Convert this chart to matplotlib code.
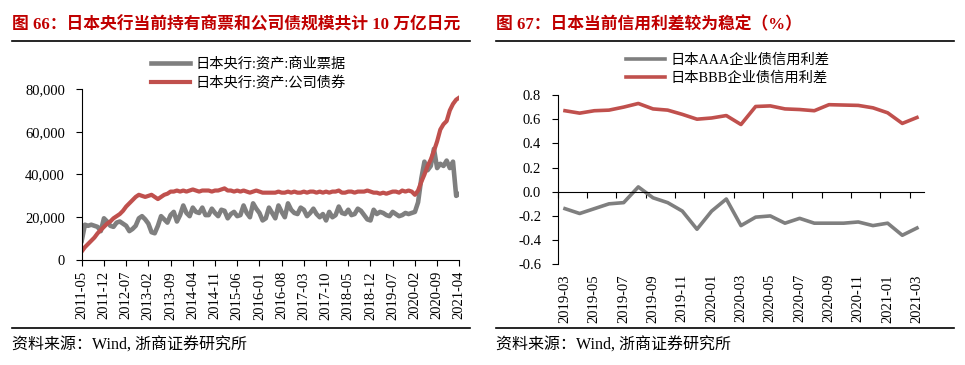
import matplotlib
matplotlib.use('Agg')
import matplotlib.pyplot as plt
import numpy as np
import pandas as pd
from matplotlib.lines import Line2D

plt.rcParams['font.family'] = ['Liberation Serif', 'Noto Sans CJK SC']
plt.rcParams['axes.unicode_minus'] = False

###############
# chart data  #
###############

# figure 66: BOJ holdings, monthly 2011-05 .. 2021-04 (100 million yen)
months_left = pd.date_range('2011-05-01', '2021-04-01', freq='MS')

cp_holdings = [
    9000, 16500, 16000, 16500, 16000, 15500, 13500, 19500, 18000, 16000,
    15500, 17500, 18000, 17000, 16000, 13500, 14500, 16000, 19500, 20500,
    19000, 17000, 13000, 12500, 16000, 20500, 19000, 17500, 21000, 22500,
    18000, 21000, 25500, 22000, 20500, 24500, 22500, 22000, 24500, 21000,
    21000, 24000, 22000, 20500, 23500, 23000, 19500, 21500, 22500, 20500,
    21000, 25500, 22000, 20000, 26500, 24000, 22000, 18500, 19500, 24500,
    22000, 19500, 25500, 22500, 20000, 26500, 23500, 22000, 21500, 24500,
    23500, 20500, 22000, 24000, 21500, 20000, 21500, 18500, 22500, 20000,
    21000, 25000, 22000, 21500, 23500, 21000, 21500, 24000, 23000, 21000,
    19000, 18500, 23500, 21500, 22500, 22000, 21000, 20500, 22500, 21500,
    20500, 21000, 22000, 21500, 22000, 22500, 27000, 38000, 46000, 42000,
    44000, 52000, 43000, 45000, 44000, 46500, 43000, 46000, 30000, 31000,
]

corp_bond_holdings = [
    4000, 6000, 7500, 9000, 10500, 12500, 14000, 15500, 17000, 18000,
    19500, 20500, 21500, 23000, 25000, 26500, 28000, 29500, 30500, 30000,
    29500, 30000, 30500, 29500, 28500, 29500, 30500, 31000, 32000, 32000,
    32500, 32000, 32500, 32000, 32500, 33000, 32500, 32000, 32500, 32500,
    32500, 32000, 32500, 32500, 33000, 33500, 32500, 32500, 32000, 32500,
    32000, 32500, 32000, 31500, 32000, 32500, 32000, 31500, 31500, 31500,
    31500, 31500, 32000, 31500, 31500, 32000, 31500, 32000, 31500, 31500,
    32000, 31500, 32000, 32000, 31500, 32000, 31500, 32000, 31500, 32000,
    32000, 32500, 31500, 31500, 32000, 32000, 31500, 32000, 32000, 32000,
    32500, 32000, 31500, 31500, 31000, 31500, 31000, 31500, 32000, 32000,
    31500, 32500, 32000, 32500, 32000, 30500, 32500, 36500, 40000, 44000,
    47000, 51000, 55500, 61000, 63500, 65000, 70000, 73000, 75000, 76000,
]

# figure 67: Japan corporate credit spreads, monthly 2019-03 .. 2021-03 (%)
months_right = pd.date_range('2019-03-01', '2021-03-01', freq='MS')

aaa_spread = [
    -0.14, -0.18, -0.14, -0.10, -0.09, 0.04, -0.05, -0.09, -0.16, -0.31,
    -0.16, -0.06, -0.28, -0.21, -0.20, -0.26, -0.22, -0.26, -0.26, -0.26,
    -0.25, -0.28, -0.26, -0.36, -0.30,
]

bbb_spread = [
    0.67, 0.65, 0.67, 0.675, 0.70, 0.73, 0.685, 0.675, 0.64, 0.60,
    0.61, 0.63, 0.556, 0.705, 0.71, 0.685, 0.68, 0.67, 0.72, 0.717,
    0.714, 0.694, 0.653, 0.565, 0.614,
]

left_legend = ['日本央行:资产:商业票据', '日本央行:资产:公司债券']
right_legend = ['日本AAA企业债信用利差', '日本BBB企业债信用利差']

title_left = '图 66：日本央行当前持有商票和公司债规模共计 10 万亿日元'
title_right = '图 67：日本当前信用利差较为稳定（%）'
source_text = '资料来源：Wind, 浙商证券研究所'

#################
# style options #
#################

gray = '#7f7f7f'
red = '#c0504d'
title_color = '#c00000'
tick_fs = 10.5
legend_fs = 10.3

fig = plt.figure(figsize=(9.65, 3.65), dpi=100)

def style_axes(ax):
    ax.spines['top'].set_visible(False)
    ax.spines['right'].set_visible(False)
    ax.spines['left'].set_linewidth(0.8)
    ax.spines['bottom'].set_linewidth(0.8)
    ax.tick_params(axis='y', direction='out', length=4, width=0.8,
                   labelsize=tick_fs, pad=8)
    ax.tick_params(axis='x', direction='out', length=4, width=0.8,
                   labelsize=tick_fs)

##############
# left chart #
##############

ax1 = fig.add_axes([0.0847, 0.2877, 0.3913, 0.4685])
xl = np.arange(len(months_left))
ax1.plot(xl, cp_holdings, color=gray, lw=3.3, solid_joinstyle='round',
         label=left_legend[0])
ax1.plot(xl, corp_bond_holdings, color=red, lw=3.0, solid_joinstyle='round',
         label=left_legend[1])
ax1.set_xlim(0, len(xl) - 1)
ax1.set_ylim(0, 80000)
style_axes(ax1)
yt = [0, 20000, 40000, 60000, 80000]
ax1.set_yticks(yt, [format(v, ',') for v in yt])
xt = xl[::7]
ax1.set_xticks(xt, [months_left[i].strftime('%Y-%m') for i in xt],
               rotation=90)
ax1.tick_params(axis='x', pad=4)
ax1.legend(loc='upper left', bbox_to_anchor=(151 / 965, 1 - 57 / 365),
           bbox_transform=fig.transFigure, frameon=False, fontsize=legend_fs,
           handlelength=2.7, handletextpad=0.4, labelspacing=0.35,
           borderpad=0, borderaxespad=0)

###############
# right chart #
###############

ax2 = fig.add_axes([0.5779, 0.2759, 0.3799, 0.4638])
xr = np.arange(len(months_right))
ax2.plot(xr, aaa_spread, color=gray, lw=2.6, label=right_legend[0])
ax2.plot(xr, bbb_spread, color=red, lw=2.6, label=right_legend[1])
ax2.set_xlim(-0.5, len(xr) - 0.5)
ax2.set_ylim(-0.6, 0.8)
style_axes(ax2)
ax2.spines['bottom'].set_position(('data', 0))
yt2 = [-0.6, -0.4, -0.2, 0.0, 0.2, 0.4, 0.6, 0.8]
ax2.set_yticks(yt2, ['%.1f' % v for v in yt2])
ax2.set_xticks(np.arange(-0.5, len(xr), 2))
ax2.tick_params(axis='x', labelbottom=False)

# date labels sit at the bottom, below the zero line
sec = ax2.secondary_xaxis('bottom')
sec.set_xticks(xr[::2], [d.strftime('%Y-%m') for d in months_right[::2]],
               rotation=90)
sec.tick_params(length=0, pad=7, labelsize=tick_fs)
sec.spines['bottom'].set_visible(False)

ax2.legend(loc='upper left', bbox_to_anchor=(626 / 965, 1 - 53 / 365),
           bbox_transform=fig.transFigure, frameon=False, fontsize=legend_fs,
           handlelength=2.7, handletextpad=0.4, labelspacing=0.35,
           borderpad=0, borderaxespad=0)

###########################
# titles, rules, sources  #
###########################

for x0, x1, title in [(12, 470, title_left), (496, 954, title_right)]:
    fig.text(x0 / 965, 1 - 25 / 365, title, color=title_color,
             fontsize=12.1, fontweight='bold', va='center', ha='left')
    fig.add_artist(Line2D([x0 / 965, x1 / 965], [1 - 41 / 365, 1 - 41 / 365],
                          color='black', lw=1.2))
    fig.add_artist(Line2D([x0 / 965, x1 / 965], [1 - 328 / 365, 1 - 328 / 365],
                          color='black', lw=1.2))
    fig.text(x0 / 965, 1 - 346 / 365, source_text, fontsize=11.5,
             va='center', ha='left')

fig.savefig('out.png', dpi=100)
